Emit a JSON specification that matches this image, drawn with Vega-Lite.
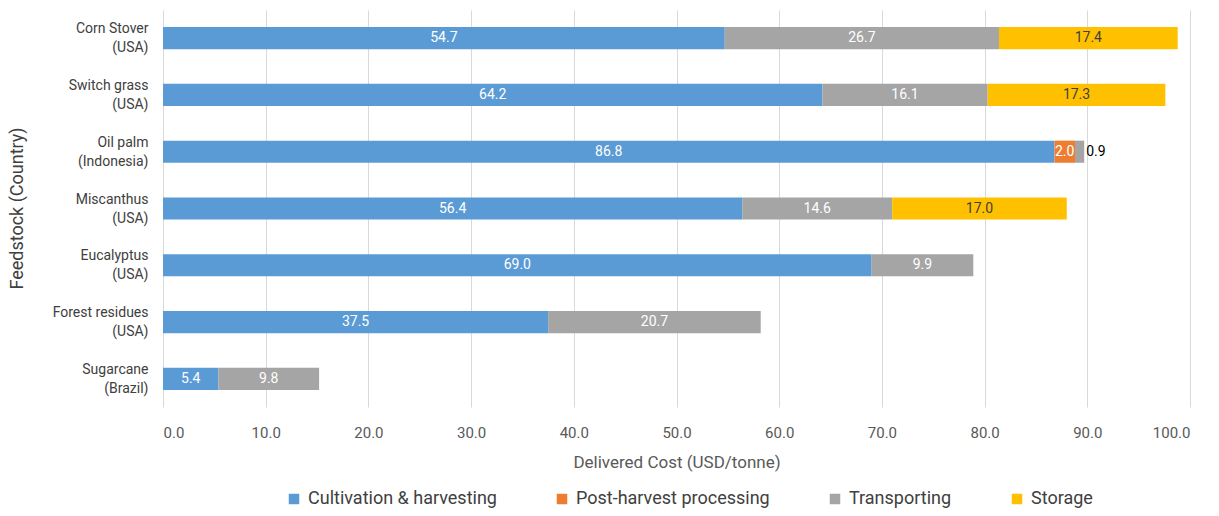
{
  "$schema": "https://vega.github.io/schema/vega-lite/v6.json",
  "width": 1027,
  "height": 397,
  "autosize": "none",
  "padding": {"left": 163, "top": 10, "right": 29, "bottom": 109},
  "config": {
    "font": "Roboto, sans-serif",
    "view": {"stroke": null}
  },
  "data": {
    "values": [
      {"feedstock": "Corn Stover|(USA)", "component": "Cultivation & harvesting", "k": 1, "value": 54.7},
      {"feedstock": "Corn Stover|(USA)", "component": "Transporting", "k": 3, "value": 26.7},
      {"feedstock": "Corn Stover|(USA)", "component": "Storage", "k": 4, "value": 17.4},
      {"feedstock": "Switch grass|(USA)", "component": "Cultivation & harvesting", "k": 1, "value": 64.2},
      {"feedstock": "Switch grass|(USA)", "component": "Transporting", "k": 3, "value": 16.1},
      {"feedstock": "Switch grass|(USA)", "component": "Storage", "k": 4, "value": 17.3},
      {"feedstock": "Oil palm|(Indonesia)", "component": "Cultivation & harvesting", "k": 1, "value": 86.8},
      {"feedstock": "Oil palm|(Indonesia)", "component": "Post-harvest processing", "k": 2, "value": 2.0},
      {"feedstock": "Oil palm|(Indonesia)", "component": "Transporting", "k": 3, "value": 0.9},
      {"feedstock": "Miscanthus|(USA)", "component": "Cultivation & harvesting", "k": 1, "value": 56.4},
      {"feedstock": "Miscanthus|(USA)", "component": "Transporting", "k": 3, "value": 14.6},
      {"feedstock": "Miscanthus|(USA)", "component": "Storage", "k": 4, "value": 17.0},
      {"feedstock": "Eucalyptus|(USA)", "component": "Cultivation & harvesting", "k": 1, "value": 69.0},
      {"feedstock": "Eucalyptus|(USA)", "component": "Transporting", "k": 3, "value": 9.9},
      {"feedstock": "Forest residues|(USA)", "component": "Cultivation & harvesting", "k": 1, "value": 37.5},
      {"feedstock": "Forest residues|(USA)", "component": "Transporting", "k": 3, "value": 20.7},
      {"feedstock": "Sugarcane|(Brazil)", "component": "Cultivation & harvesting", "k": 1, "value": 5.4},
      {"feedstock": "Sugarcane|(Brazil)", "component": "Transporting", "k": 3, "value": 9.8}
    ]
  },
  "encoding": {
    "y": {
      "field": "feedstock",
      "type": "nominal",
      "sort": ["Corn Stover|(USA)", "Switch grass|(USA)", "Oil palm|(Indonesia)", "Miscanthus|(USA)", "Eucalyptus|(USA)", "Forest residues|(USA)", "Sugarcane|(Brazil)"],
      "scale": {"paddingInner": 0.61, "paddingOuter": 0.3},
      "axis": {
        "title": "Feedstock (Country)",
        "labelExpr": "split(datum.value, '|')",
        "labelFontSize": 14,
        "labelColor": "#404040",
        "labelPadding": 15,
        "labelLineHeight": 19,
        "labelOffset": -9,
        "domain": false,
        "ticks": false,
        "titleFontSize": 18,
        "titleFontWeight": "normal",
        "titleColor": "#404040",
        "titleX": -137,
        "titleY": 198
      }
    }
  },
  "layer": [
    {
      "mark": {"type": "bar"},
      "encoding": {
        "x": {
          "field": "value",
          "type": "quantitative",
          "stack": "zero",
          "scale": {"domain": [0, 100]},
          "axis": {
            "title": "Delivered Cost (USD/tonne)",
            "format": ".1f",
            "values": [0, 10, 20, 30, 40, 50, 60, 70, 80, 90, 100],
            "domain": false,
            "ticks": false,
            "gridColor": "#d9d9d9",
            "labelFontSize": 15,
            "labelColor": "#595959",
            "labelPadding": 18,
            "titleFontSize": 17,
            "titleFontWeight": "normal",
            "titleColor": "#595959",
            "titlePadding": 14
          }
        },
        "color": {
          "field": "component",
          "type": "nominal",
          "scale": {
            "domain": ["Cultivation & harvesting", "Post-harvest processing", "Transporting", "Storage"],
            "range": ["#5b9bd5", "#ed7d31", "#a5a5a5", "#ffc000"]
          },
          "legend": {
            "title": null,
            "orient": "none",
            "direction": "horizontal",
            "legendX": 122,
            "legendY": 480,
            "symbolType": "square",
            "symbolSize": 110,
            "symbolStrokeWidth": 0,
            "labelFontSize": 18,
            "labelLimit": 400,
            "labelColor": "#404040",
            "columnPadding": 56,
            "labelOffset": 5
          }
        },
        "order": {"field": "k", "type": "quantitative"}
      }
    },
    {
      "transform": [{"filter": "datum.value >= 1"}],
      "mark": {"type": "text", "fontSize": 14, "baseline": "middle", "align": "center"},
      "encoding": {
        "x": {"field": "value", "type": "quantitative", "stack": "zero", "bandPosition": 0.5},
        "text": {"field": "value", "type": "quantitative", "format": ".1f"},
        "detail": {"field": "component"},
        "order": {"field": "k", "type": "quantitative"},
        "color": {
          "condition": {"test": "datum.component === 'Storage'", "value": "#3f3f3f"},
          "value": "#ffffff"
        }
      }
    },
    {
      "transform": [{"filter": "datum.value < 1"}],
      "mark": {"type": "text", "fontSize": 14, "baseline": "middle", "align": "left", "dx": 2, "color": "#000000"},
      "encoding": {
        "x": {"datum": 89.7, "type": "quantitative"},
        "text": {"field": "value", "type": "quantitative", "format": ".1f"}
      }
    }
  ]
}
